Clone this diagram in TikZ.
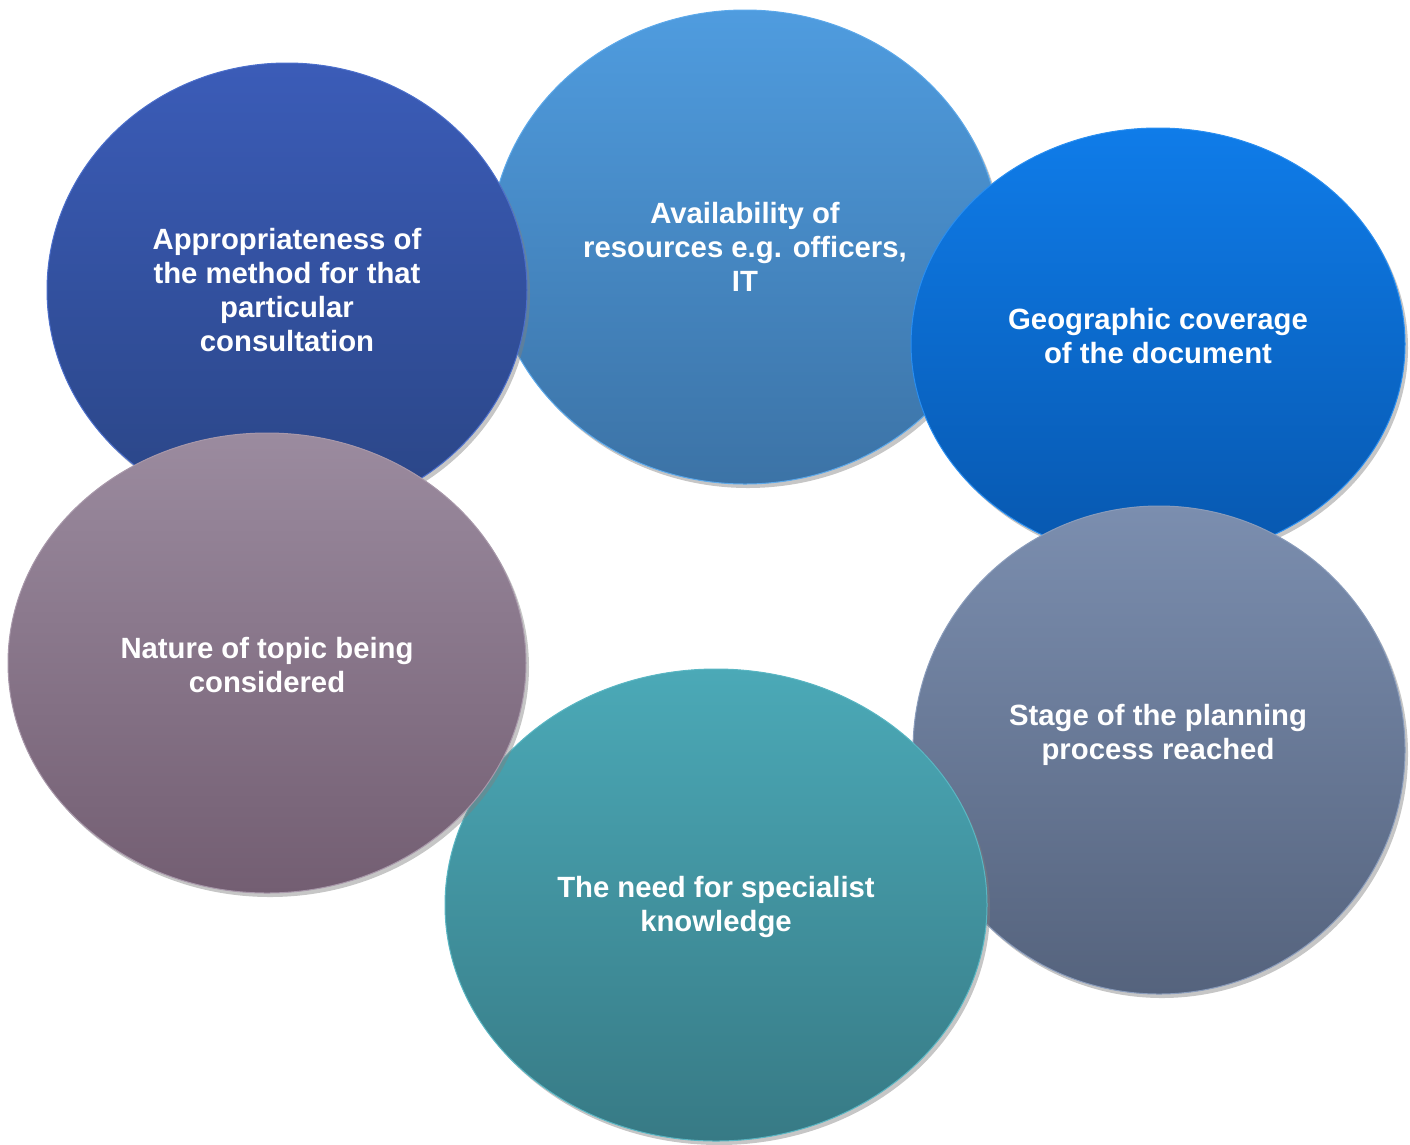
\documentclass[tikz,border=0pt]{standalone}
\usepackage{fontspec}
\setmainfont{Liberation Sans}
\usetikzlibrary{shadows,shapes.geometric}
\begin{document}
\begin{tikzpicture}[x=1pt,y=-1pt,
  bubble/.style={ellipse, inner sep=0pt, line width=1pt,
    drop shadow={shadow xshift=3pt, shadow yshift=-4pt, opacity=0.45}},
  lbl/.style={align=center, text=white, font=\fontsize{29.3}{34}\selectfont\bfseries}]
\useasboundingbox (0,0) rectangle (1410,1144);
\definecolor{aT}{HTML}{3B5CB8}\definecolor{aB}{HTML}{2A4585}\definecolor{aL}{HTML}{4C6FCB}
\definecolor{vT}{HTML}{4F9CDF}\definecolor{vB}{HTML}{3C73A6}\definecolor{vL}{HTML}{5DA9EA}
\definecolor{gT}{HTML}{0F7CE9}\definecolor{gB}{HTML}{0757AE}\definecolor{gL}{HTML}{2A8EF0}
\definecolor{nT}{HTML}{9B8B9F}\definecolor{nB}{HTML}{735E72}\definecolor{nL}{HTML}{A898AA}
\definecolor{dT}{HTML}{4BA9B7}\definecolor{dB}{HTML}{377A85}\definecolor{dL}{HTML}{5AB6C3}
\definecolor{sT}{HTML}{7B8EAF}\definecolor{sB}{HTML}{55637D}\definecolor{sL}{HTML}{8A9CBB}
% back to front
\node[bubble, draw=vL, top color=vT, bottom color=vB, minimum width=510pt, minimum height=474pt] (avail) at (745,247) {};
\node[bubble, draw=gL, top color=gT, bottom color=gB, minimum width=494pt, minimum height=432pt] (geo) at (1158,344) {};
\node[bubble, draw=aL, top color=aT, bottom color=aB, minimum width=480pt, minimum height=454pt] (appr) at (287,290) {};
\node[bubble, draw=sL, top color=sT, bottom color=sB, minimum width=492pt, minimum height=488pt] (stage) at (1159,750) {};
\node[bubble, draw=dL, top color=dT, bottom color=dB, minimum width=542pt, minimum height=472pt] (need) at (716,905) {};
\node[bubble, draw=nL, top color=nT, bottom color=nB, minimum width=518pt, minimum height=460pt] (nature) at (267,663) {};
% labels
\node[lbl] (tappr) at (287,290) {Appropriateness of\\the method for that\\particular\\consultation};
\node[lbl] (tavail) at (745,247) {Availability of\\resources e.g. officers,\\IT};
\node[lbl] (tgeo) at (1158,336) {Geographic coverage\\of the document};
\node[lbl] (tnature) at (267,665) {Nature of topic being\\considered};
\node[lbl] (tneed) at (716,907) {The need for specialist\\knowledge};
\node[lbl] (tstage) at (1158,735) {Stage of the planning\\process reached};
\end{tikzpicture}
\end{document}
